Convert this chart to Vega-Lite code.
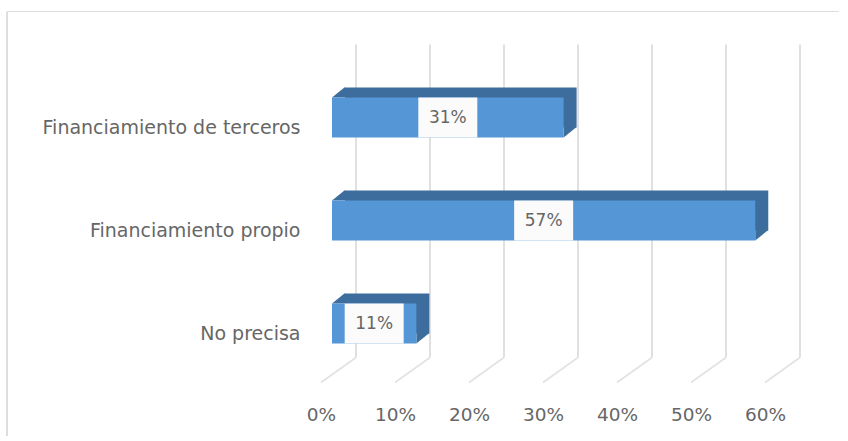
{"$schema":"https://vega.github.io/schema/vega-lite/v6.json","autosize":"none","padding":{"left":7,"top":12,"right":9,"bottom":5},"width":832,"height":424,"background":"white","config":{"view":{"stroke":null},"font":"DejaVu Sans"},"datasets":{"bars":[{"categoria":"Financiamiento de terceros","valor":0.313},{"categoria":"Financiamiento propio","valor":0.572},{"categoria":"No precisa","valor":0.114}],"ticks":[{"t":0},{"t":0.1},{"t":0.2},{"t":0.3},{"t":0.4},{"t":0.5},{"t":0.6}]},"resolve":{"scale":{"x":"independent"},"axis":{"x":"independent"}},"layer":[{"encoding":{"y":{"field":"categoria","type":"nominal","sort":["Financiamiento de terceros","Financiamiento propio","No precisa"],"title":null,"scale":{"range":[54,363],"padding":0},"axis":{"title":null,"domain":false,"ticks":false,"labelFontSize":19,"labelColor":"#666666","labelOffset":10,"offset":-293,"labelPadding":0,"labelLimit":300}}},"layer":[{"data":{"name":"ticks"},"mark":{"type":"rule","color":"#dddddd","strokeWidth":1,"xOffset":-314},"encoding":{"x":{"datum":0,"type":"quantitative","title":null,"scale":{"domain":[0,0.6],"range":[314,758]},"axis":{"title":null,"values":[0,0.1,0.2,0.3,0.4,0.5,0.6],"format":".0%","grid":false,"domain":false,"ticks":false,"labelFontSize":18.5,"labelColor":"#666666","offset":-31,"labelPadding":0,"labelFlush":false}},"y":null}},{"data":{"values":[{"c":"Financiamiento de terceros"}]},"mark":{"type":"rule","color":"#dddddd","strokeWidth":1,"yOffset":-106},"encoding":{"y":{"field":"c","type":"nominal"}}},{"data":{"name":"ticks"},"mark":{"type":"rule","color":"#d9d9d9","strokeWidth":1.6,"xOffset":35,"yOffset":-73,"y2Offset":34},"encoding":{"x":{"field":"t","type":"quantitative"},"y":{"datum":"Financiamiento de terceros"},"y2":{"datum":"No precisa"}}},{"data":{"name":"ticks"},"mark":{"type":"rule","color":"#e2e2e2","strokeWidth":1.6,"xOffset":35,"x2Offset":0,"yOffset":34,"y2Offset":59},"encoding":{"x":{"field":"t","type":"quantitative"},"x2":{"field":"t"},"y":{"datum":"No precisa"},"y2":{"datum":"No precisa"}}},{"data":{"name":"bars"},"mark":{"type":"bar","color":"#3d6d9c","height":40,"xOffset":24,"x2Offset":24,"yOffset":-10,"y2Offset":-10},"encoding":{"x":{"field":"valor","type":"quantitative"},"x2":{"datum":0}}},{"data":{"name":"bars"},"mark":{"type":"point","filled":true,"opacity":1,"color":"#3d6d9c","size":676,"shape":"M0 0L1 -0.8L1 0Z","xOffset":11,"yOffset":-20},"encoding":{"x":{"datum":0}}},{"data":{"name":"bars"},"mark":{"type":"point","filled":true,"opacity":1,"color":"#3d6d9c","size":676,"shape":"M0 0L1 -0.8L0 -0.8Z","xOffset":11,"yOffset":20},"encoding":{"x":{"field":"valor","type":"quantitative"}}},{"data":{"name":"bars"},"mark":{"type":"bar","color":"#5596d6","height":40,"xOffset":11,"x2Offset":11},"encoding":{"x":{"field":"valor","type":"quantitative"},"x2":{"datum":0}}}]},{"data":{"name":"bars"},"encoding":{"x":{"field":"valor","type":"quantitative","title":null,"scale":{"domain":[0,1.2],"range":[314,758]},"axis":null},"y":{"field":"categoria","type":"nominal","title":null,"sort":["Financiamiento de terceros","Financiamiento propio","No precisa"]}},"layer":[{"mark":{"type":"point","filled":true,"opacity":1,"color":"#fbfbfb","size":1600,"shape":"M-1.475 -1H1.475V1H-1.475Z","xOffset":11}},{"mark":{"type":"text","fontSize":17,"color":"#666666","xOffset":11},"encoding":{"text":{"field":"valor","type":"quantitative","format":".0%"}}}]}]}
